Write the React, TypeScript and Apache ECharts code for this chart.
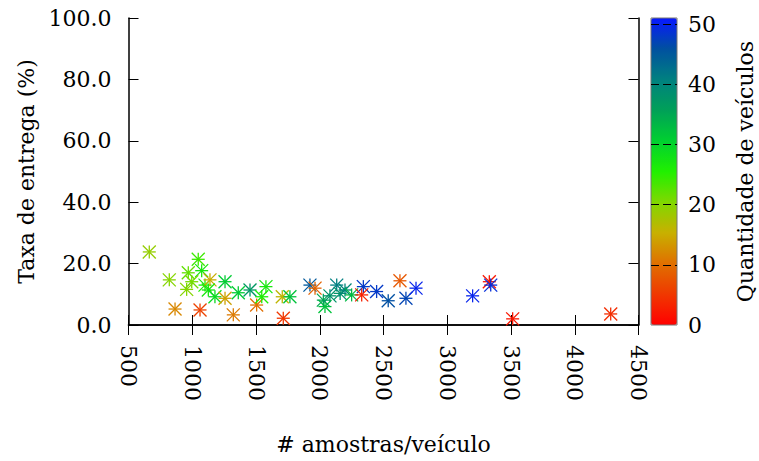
import React, { useEffect, useRef } from "react";
import * as echarts from "echarts";

// # amostras/veículo
const samplesPerVehicle = [
  663, 820, 865, 1047, 969, 1074, 956, 996, 1061, 1100, 1139, 1126, 1178, 1257, 1257,
  1322, 1361, 1453, 1505, 1578, 1545, 1714, 1706, 1766, 1923, 1963, 2041, 2028, 2080,
  2133, 2160, 2198, 2250, 2342, 2329, 2446, 2537, 2629, 2676, 2755, 3199, 3330, 3341,
  3513, 4282,
];
// Taxa de entrega (%)
const deliveryRate = [
  23.8, 14.7, 5.2, 21.4, 17.0, 17.7, 11.6, 14.1, 4.9, 13.0, 14.7, 11.4, 9.2, 14.1, 8.7,
  3.3, 10.5, 11.4, 6.5, 12.5, 9.2, 2.2, 9.2, 9.2, 13.0, 12.0, 6.0, 8.1, 9.5,
  13.0, 10.3, 11.4, 9.8, 12.5, 9.8, 10.9, 7.9, 14.4, 8.7, 12.0, 9.5, 14.1, 13.0,
  2.0, 3.6,
];
// Quantidade de veículos
const vehicleCount = [
  19, 20, 12, 24, 22, 27, 20, 21, 6, 26, 15, 27, 29, 31, 14,
  11, 31, 37, 10, 27, 26, 5, 16, 32, 45, 9, 32, 35, 38,
  41, 38, 40, 33, 48, 3, 48, 46, 8, 47, 50, 50, 2, 49,
  2, 4,
];

const xTicks = { min: 500, max: 4500, interval: 500 };
const yTicks = { min: 0, max: 100, interval: 20 };
const cbTicks = { min: 0, max: 51, interval: 10 };
const palette = [
  "#ff0000", "#f03800", "#e07000", "#c8b000", "#80d800", "#20f000",
  "#00d030", "#00a058", "#008080", "#0050a0", "#0818ff",
];

const FONT = "DejaVu Serif";

export default function App() {
  const ref = useRef<HTMLDivElement>(null);
  useEffect(() => {
    document.body.style.margin = "0";
    const chart = echarts.init(ref.current!, undefined, { renderer: "svg" });
    const data = samplesPerVehicle.map((x, i) => [x, deliveryRate[i], vehicleCount[i]]);
    const txt = { fontFamily: FONT, fontSize: 22, color: "#000" };
    const axisLine = { show: true, lineStyle: { color: "#000", width: 1.5 } };
    const tick = { show: true, inside: true, length: 10, lineStyle: { color: "#000", width: 1 } };
    const H = 6.5;
    chart.setOption({
      animation: false,
      grid: [
        { left: 128.5, top: 18, width: 510, height: 307 },
        {
          left: 651, top: 18, width: 26, height: 307, show: true, z: 10,
          borderColor: "#777", borderWidth: 1, backgroundColor: "transparent",
        },
      ],
      xAxis: [
        {
          gridIndex: 0, type: "value", position: "bottom", ...xTicks,
          axisLine, axisTick: tick, splitLine: { show: false },
          axisLabel: { ...txt, rotate: -90, margin: 20, formatter: (v: number) => String(v) },
          name: "# amostras/veículo", nameLocation: "middle", nameGap: 108,
          nameTextStyle: { ...txt },
        },
        {
          gridIndex: 0, type: "value", position: "top", ...xTicks,
          axisLine, axisTick: tick, splitLine: { show: false }, axisLabel: { show: false },
        },
        { gridIndex: 1, type: "value", min: 0, max: 1, show: false },
      ],
      yAxis: [
        {
          gridIndex: 0, type: "value", position: "left", ...yTicks,
          axisLine, axisTick: tick, splitLine: { show: false },
          axisLabel: { ...txt, margin: 17, formatter: (v: number) => v.toFixed(1) },
          name: "Taxa de entrega (%)", nameLocation: "middle", nameGap: 90,
          nameTextStyle: { ...txt },
        },
        {
          gridIndex: 0, type: "value", position: "right", ...yTicks,
          axisLine, axisTick: tick, splitLine: { show: false }, axisLabel: { show: false },
        },
        {
          gridIndex: 1, type: "value", position: "right", ...cbTicks, z: 10,
          axisLine: { show: false }, axisTick: { show: false },
          splitLine: {
            show: true, showMinLine: false, showMaxLine: false,
            lineStyle: { color: "#000", width: 1, type: [8, 4] },
          },
          axisLabel: {
            ...txt, margin: 11,
            formatter: (v: number) => (v % 10 === 0 ? String(v) : ""),
          },
          name: "Quantidade de veículos", nameLocation: "middle", nameGap: 57,
          nameTextStyle: { ...txt },
        },
      ],
      visualMap: {
        type: "continuous", min: cbTicks.min, max: cbTicks.max, dimension: 2, seriesIndex: 0,
        left: 651, top: 18, itemWidth: 26, itemHeight: 307, padding: 0,
        calculable: false, hoverLink: false,
        inRange: { color: palette },
      },
      series: [
        {
          type: "custom", xAxisIndex: 0, yAxisIndex: 0,
          dimensions: ["x", "y", "v"], encode: { x: 0, y: 1 },
          data,
          renderItem: (params: any, api: any) => {
            const p = api.coord([api.value(0), api.value(1)]);
            const c = api.visual("color");
            const st = { stroke: c, lineWidth: 1.3 };
            const seg = (dx: number, dy: number) => ({
              type: "line",
              shape: { x1: p[0] - dx, y1: p[1] - dy, x2: p[0] + dx, y2: p[1] + dy },
              style: st,
            });
            return {
              type: "group",
              children: [seg(H, 0), seg(0, H), seg(H, H), seg(H, -H)],
            };
          },
        },
      ],
    });
    return () => chart.dispose();
  }, []);
  return (
    <div
      ref={ref}
      style={{ position: "absolute", left: 0, top: 0, width: 759, height: 461 }}
    />
  );
}
